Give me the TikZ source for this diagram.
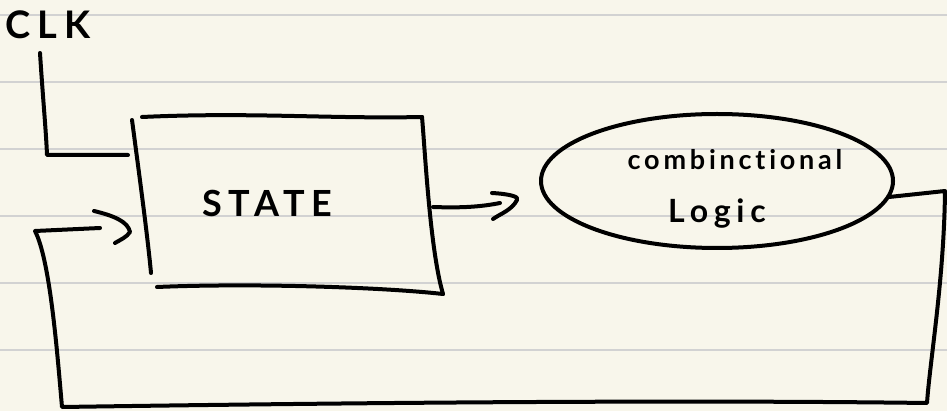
\documentclass[tikz,border=0pt]{standalone}
\usepackage{fontspec}
\newfontfamily\capsfont[LetterSpace=18]{Lato}
\newfontfamily\lowfont[LetterSpace=14, Ligatures={NoCommon}]{Lato}
\definecolor{paper}{RGB}{248,246,235}
\definecolor{ruling}{RGB}{210,210,210}
\begin{document}
\begin{tikzpicture}[x=1pt,y=-1pt,
  pen/.style={line width=4pt, line cap=round, line join=round, black},
  ruleline/.style={ruling, line width=2pt},
  txt/.style={inner sep=0pt, text=black}]
\fill[paper] (0,0) rectangle (947,411);
\useasboundingbox (0,0) rectangle (947,411);
\foreach \yy in {15,82,149,216,283,350} \draw[ruleline] (0,\yy) -- (947,\yy);

% texts
\node[txt, font=\capsfont\bfseries\fontsize{38}{38}\selectfont] (clk) at (48,25) {CLK};
\node[txt, font=\capsfont\bfseries\fontsize{36}{36}\selectfont] (state) at (267,203) {STATE};
\node[txt, font=\lowfont\bfseries\fontsize{27}{27}\selectfont] (comb) at (735,160) {combinctional};
\node[txt, font=\capsfont\bfseries\fontsize{32}{32}\selectfont] (logic) at (717,214) {Logic};

% STATE box strokes
\coordinate (bTL) at (142,117); \coordinate (bTR) at (422,117);
\coordinate (bLT) at (132,120); \coordinate (bLB) at (151,273);
\coordinate (bBL) at (157,287); \coordinate (bBR) at (443,294);
\draw[pen] (bTL) .. controls (250,112) and (330,119) .. (bTR);
\draw[pen] (bTR) .. controls (425,150) and (430,250) .. (bBR);
\draw[pen] (bLT) .. controls (140,180) and (148,240) .. (bLB);
\draw[pen] (bBL) .. controls (250,283) and (380,287) .. (bBR);

% combinational logic blob
\coordinate (cC) at (717,181);
\draw[pen] (cC) ellipse [x radius=176pt, y radius=67pt];
\coordinate (cOut) at (889,197);

% CLK line
\coordinate (k1) at (40,53); \coordinate (k2) at (47,155); \coordinate (k3) at (128,155);
\draw[pen] (k1) .. controls (43,100) and (46,130) .. (k2) -- (k3);

% arrow STATE -> logic
\coordinate (a1) at (433,207); \coordinate (a2) at (500,203);
\draw[pen] (a1) .. controls (460,208) and (480,207) .. (a2);
\coordinate (h1) at (492,193); \coordinate (h2) at (517,200); \coordinate (h3) at (493,219);
\draw[pen] (h1) .. controls (510,194) and (520,197) .. (h2) .. controls (512,210) and (500,214) .. (h3);

% feedback loop
\coordinate (f1) at (945,191); \coordinate (f2) at (927,403);
\coordinate (f3) at (62,407); \coordinate (f4) at (35,231); \coordinate (f5) at (100,228);
\draw[pen] (cOut) -- (f1) .. controls (944,280) and (930,360) .. (f2)
  .. controls (700,400) and (400,402) .. (f3)
  .. controls (57,350) and (50,260) .. (f4) -- (f5);
\coordinate (g1) at (94,211); \coordinate (g2) at (130,232); \coordinate (g3) at (115,243);
\draw[pen] (g1) .. controls (115,216) and (128,222) .. (g2) .. controls (127,237) and (120,240) .. (g3);
\end{tikzpicture}
\end{document}
